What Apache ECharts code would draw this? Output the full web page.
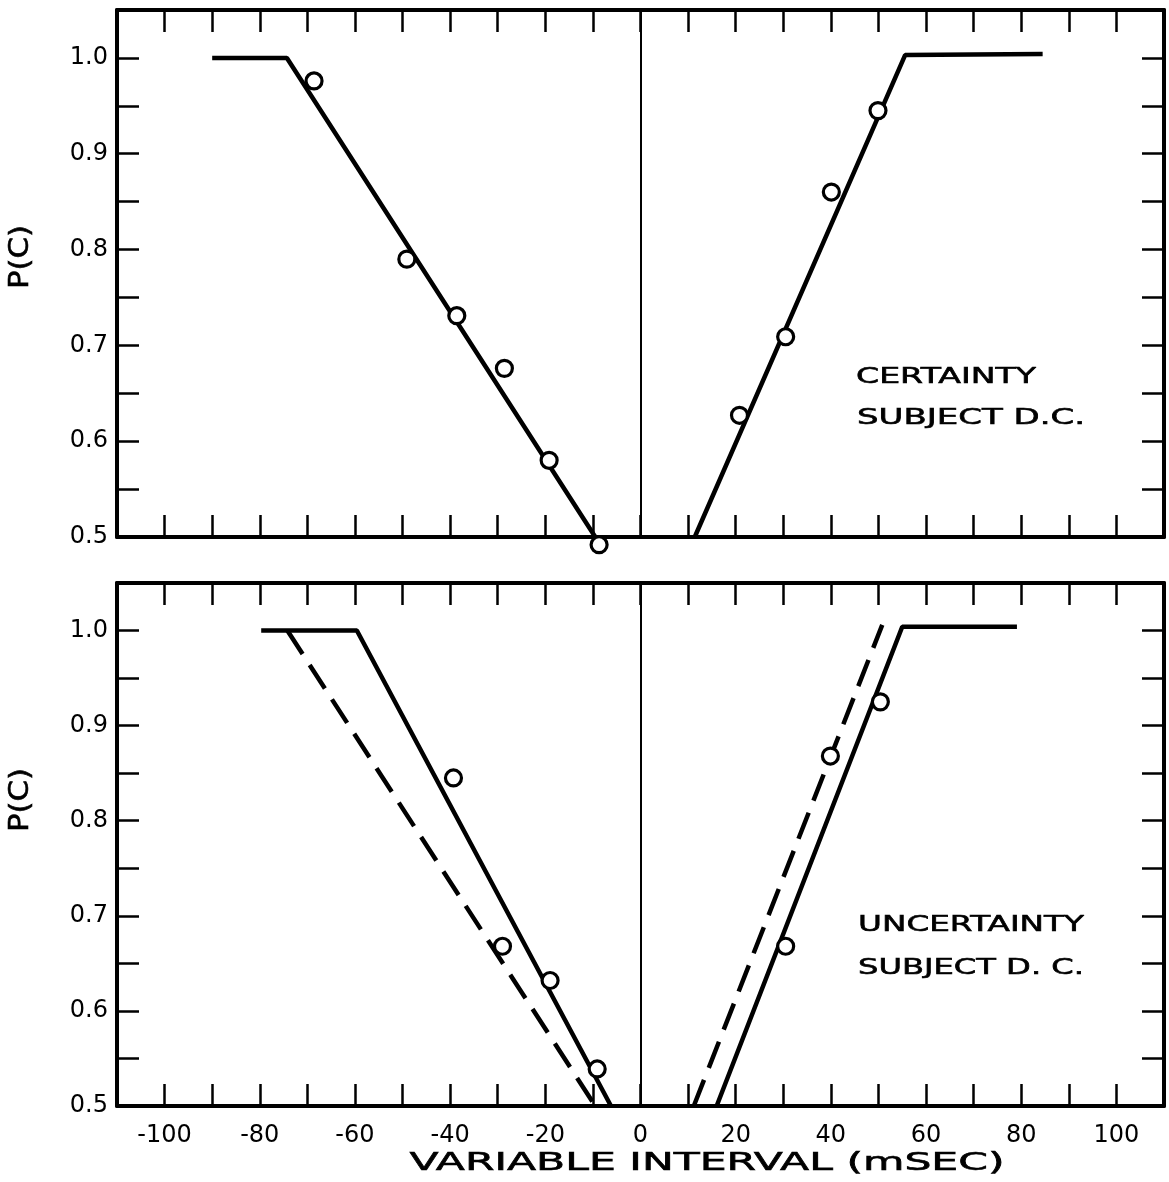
<!DOCTYPE html>
<html>
<head>
<meta charset="utf-8">
<script src="https://cdn.jsdelivr.net/npm/echarts@6/dist/echarts.min.js"></script>
<style>
html,body{margin:0;padding:0;background:#fff;}
#chart{width:1169px;height:1182px;}
</style>
</head>
<body>
<div id="chart"></div>
<script>
// ---- Data ----
// Certainty panel: fitted function (solid) and observed points
const certFitLeft = [[-90.0, 1.0], [-74.3, 1.0], [-9.5, 0.5]];
const certFitRight = [[11.4, 0.5], [55.6, 1.003], [84.5, 1.004]];
const certPointsX = [-68.6, -49.1, -38.6, -28.6, -19.2, -8.7, 20.8, 30.5, 40.1, 49.9];
const certPointsY = [0.976, 0.790, 0.731, 0.676, 0.580, 0.492, 0.627, 0.709, 0.860, 0.945];

// Uncertainty panel: solid fit, dashed fit and observed points
const uncFitLeftSolid = [[-79.7, 1.0], [-59.6, 1.0], [-6.2, 0.5]];
const uncFitLeftDashed = [[-74.2, 1.0], [-9.5, 0.5]];
const uncFitRightSolid = [[16.0, 0.5], [55.0, 1.004], [79.1, 1.004]];
const uncFitRightDashed = [[11.2, 0.5], [50.8, 1.006]];
const uncPointsX = [-39.3, -29.0, -19.0, -9.1, 30.5, 39.9, 50.4];
const uncPointsY = [0.845, 0.668, 0.632, 0.539, 0.668, 0.868, 0.925];

// Axis ranges / ticks
const xRange = [-110, 110];
const xTickStep = 10;
const xLabelStep = 20;
const yRange = [0.5, 1.05];
const yTickStep = 0.05;

// Texts
const xTitle = 'VARIABLE INTERVAL (mSEC)';
const yTitle = 'P(C)';
const topNote = ['CERTAINTY', 'SUBJECT D.C.'];
const bottomNote = ['UNCERTAINTY', 'SUBJECT D. C.'];

// ---- Helpers ----
const FONT = 'DejaVu Sans';
const measureCtx = document.createElement('canvas').getContext('2d');
function textWidth(str, size, weight) {
  measureCtx.font = (weight || 'normal') + ' ' + size + 'px "' + FONT + '"';
  return measureCtx.measureText(str).width;
}
function zip(xs, ys) { return xs.map((x, i) => [x, ys[i]]); }

const tickStyle = { show: true, inside: true, length: 22, lineStyle: { color: '#000', width: 2.5 } };
const lineAxis = { show: true, onZero: false, lineStyle: { color: '#000', width: 4 } };

function xAxisDef(gridIndex, position, labels) {
  return {
    type: 'value', gridIndex: gridIndex, position: position,
    min: xRange[0], max: xRange[1], interval: xTickStep,
    axisLine: lineAxis, axisTick: tickStyle, splitLine: { show: false },
    axisLabel: {
      show: labels, margin: 18, fontSize: 24, color: '#000', fontFamily: FONT,
      formatter: v => (Math.round(v) % xLabelStep === 0 && Math.abs(v) <= 100) ? String(Math.round(v)) : ''
    }
  };
}
function yAxisDef(gridIndex, position, labels) {
  return {
    type: 'value', gridIndex: gridIndex, position: position,
    min: yRange[0], max: yRange[1], interval: yTickStep,
    axisLine: lineAxis, axisTick: tickStyle, splitLine: { show: false },
    axisLabel: {
      show: labels, margin: 9, fontSize: 24, color: '#000', fontFamily: FONT,
      formatter: v => {
        const k = Math.round(v * 100);
        return (k % 10 === 0 && k <= 100) ? (k / 100).toFixed(1) : '';
      }
    }
  };
}
function fitLine(data, xi, yi, dashed) {
  return {
    type: 'line', data: data, xAxisIndex: xi, yAxisIndex: yi,
    symbol: 'none', showSymbol: false, clip: false, z: 3,
    lineStyle: { color: '#000', width: 4.5, type: dashed ? [28, 13] : 'solid' },
    silent: true
  };
}
function pointsSeries(data, xi, yi) {
  return {
    type: 'scatter', data: data, xAxisIndex: xi, yAxisIndex: yi, clip: false, z: 5,
    symbol: 'circle', symbolSize: 16,
    itemStyle: { color: '#fff', borderColor: '#000', borderWidth: 3.2, opacity: 1 },
    silent: true
  };
}
function zeroLine(xi, yi) {
  return {
    type: 'line', data: [], xAxisIndex: xi, yAxisIndex: yi, silent: true,
    markLine: {
      silent: true, symbol: ['none', 'none'], label: { show: false },
      lineStyle: { color: '#000', width: 2, type: 'solid' },
      data: [{ xAxis: 0 }]
    }
  };
}
function stretchedText(str, size, x, y, targetW, align, rotation) {
  const w = textWidth(str, size, 'normal');
  return {
    type: 'text', x: x, y: y, rotation: rotation || 0, scaleX: targetW / w, z: 10,
    style: { text: str, fontSize: size, fontFamily: FONT, fill: '#000',
             stroke: '#000', lineWidth: 0.6, align: align, verticalAlign: 'middle' }
  };
}

const option = {
  animation: false,
  backgroundColor: '#fff',
  grid: [
    { left: 117, right: 5, top: 10, height: 527 },
    { left: 117, right: 5, top: 583, height: 523 }
  ],
  xAxis: [
    xAxisDef(0, 'bottom', false),
    xAxisDef(0, 'top', false),
    xAxisDef(1, 'bottom', true),
    xAxisDef(1, 'top', false)
  ],
  yAxis: [
    yAxisDef(0, 'left', true),
    yAxisDef(0, 'right', false),
    yAxisDef(1, 'left', true),
    yAxisDef(1, 'right', false)
  ],
  series: [
    zeroLine(0, 0),
    fitLine(certFitLeft, 0, 0, false),
    fitLine(certFitRight, 0, 0, false),
    pointsSeries(zip(certPointsX, certPointsY), 0, 0),
    zeroLine(2, 2),
    fitLine(uncFitLeftSolid, 2, 2, false),
    fitLine(uncFitLeftDashed, 2, 2, true),
    fitLine(uncFitRightSolid, 2, 2, false),
    fitLine(uncFitRightDashed, 2, 2, true),
    pointsSeries(zip(uncPointsX, uncPointsY), 2, 2)
  ],
  graphic: [
    stretchedText(topNote[0], 22, 856, 377, 180, 'left'),
    stretchedText(topNote[1], 22, 857, 418, 228, 'left'),
    stretchedText(bottomNote[0], 22, 858, 925, 226, 'left'),
    stretchedText(bottomNote[1], 22, 858, 968, 226, 'left'),
    stretchedText(xTitle, 25, 707, 1163, 595, 'center'),
    stretchedText(yTitle, 26, 21, 257, 64, 'center', Math.PI / 2),
    stretchedText(yTitle, 26, 21, 800, 64, 'center', Math.PI / 2)
  ]
};

const chart = echarts.init(document.getElementById('chart'), null, { renderer: 'canvas' });
chart.setOption(option);
</script>
</body>
</html>
